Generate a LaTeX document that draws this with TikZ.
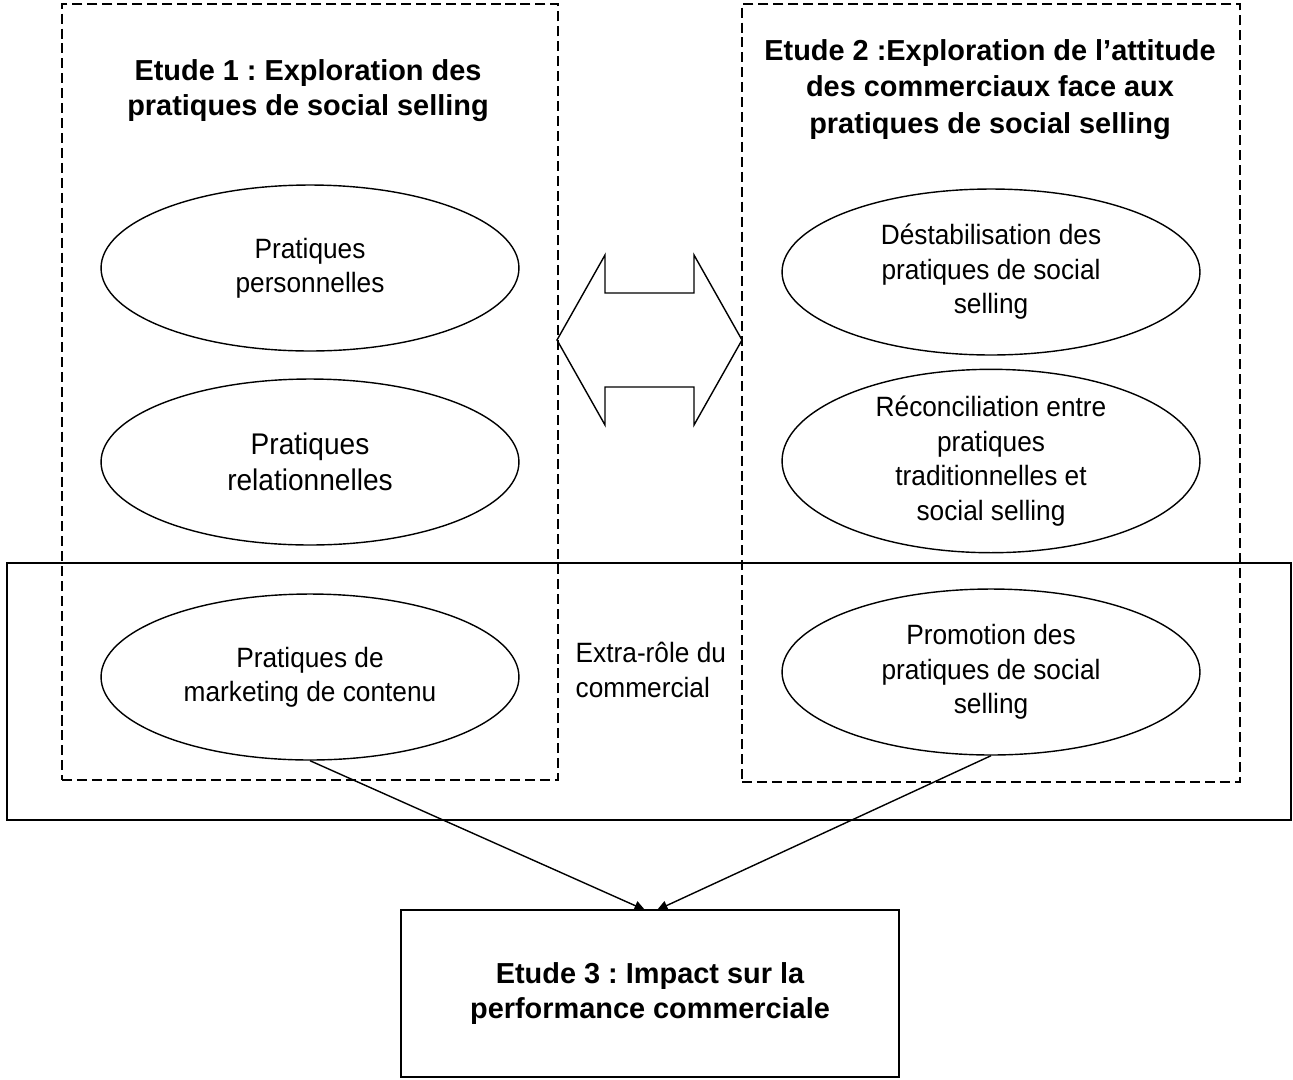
\documentclass[tikz,border=0pt]{standalone}
\usepackage{fontspec}
\setmainfont{Liberation Sans}
\newfontfamily\regf[FakeStretch=0.94]{Liberation Sans}
\usetikzlibrary{shapes.geometric,arrows.meta}
\frenchspacing
\begin{document}
\begin{tikzpicture}[x=0.02cm,y=-0.02cm,
  line width=0.8pt,
  dashbox/.style={draw,dash pattern=on 5.7pt off 2.8pt,inner sep=0pt},
  solidbox/.style={draw,inner sep=0pt},
  ell/.style={draw,ellipse,minimum width=8.36cm,minimum height=3.32cm,inner sep=0pt,align=center,
    font=\regf\fontsize{15.9}{19.6}\selectfont},
  ttl/.style={align=center,font=\bfseries\fontsize{16.45}{20.3}\selectfont},
  arr/.style={-{Triangle[length=6pt,width=5.5pt]}},
]
\useasboundingbox (0,0) rectangle (1293,1079);

% frames
\node[solidbox,minimum width=25.68cm,minimum height=5.14cm] (extra) at (649,691.5) {};
\node[dashbox,minimum width=9.92cm,minimum height=15.52cm] (s1) at (310,392) {};
\node[dashbox,minimum width=9.96cm,minimum height=15.56cm] (s2) at (991,393) {};

% titles (base anchor = baseline of the last line)
\node[ttl,anchor=base,font=\bfseries\fontsize{16.45}{19.85}\selectfont] (t1) at (308,115)
  {Etude 1 : Exploration des\\pratiques de social selling};
\node[ttl,anchor=base,font=\bfseries\fontsize{16.45}{20.7}\selectfont] (t2) at (990,133)
  {Etude 2 :Exploration de l’attitude\\des commerciaux face aux\\pratiques de social selling};

% left ellipses
\node[ell] (l1) at (310,268) {Pratiques\\personnelles};
\node[ell,font=\regf\fontsize{17}{20.8}\selectfont] (l2) at (310,462) {Pratiques\\relationnelles};
\node[ell] (l3) at (310,677) {Pratiques de\\marketing de contenu};

% right ellipses
\node[ell] (r1) at (991,272) {Déstabilisation des\\pratiques de social\\selling};
\node[ell] (r2) at (991,461) {Réconciliation entre\\pratiques\\traditionnelles et\\social selling};
\node[ell] (r3) at (991,672) {Promotion des\\pratiques de social\\selling};

% extra-role label
\node[anchor=base west,align=left,inner sep=0pt,font=\regf\fontsize{15.9}{19.8}\selectfont] (xr) at (575,697)
  {Extra-rôle du\\commercial};

% double arrow
\draw (557,340) -- (605,255) -- (605,293) -- (694,293) -- (694,255) -- (742,340)
  -- (694,425) -- (694,387) -- (605,387) -- (605,425) -- cycle;

% study 3
\node[solidbox,minimum width=9.96cm,minimum height=3.34cm,align=center,
  font=\bfseries\fontsize{16.45}{20.4}\selectfont] (e3) at (650,993.5)
  {Etude 3 : Impact sur la\\performance commerciale};

\coordinate (a1) at (645,910);
\coordinate (a2) at (657,910);
\draw[arr] (l3.south) -- (a1);
\draw[arr] (r3.south) -- (a2);
\end{tikzpicture}
\end{document}
